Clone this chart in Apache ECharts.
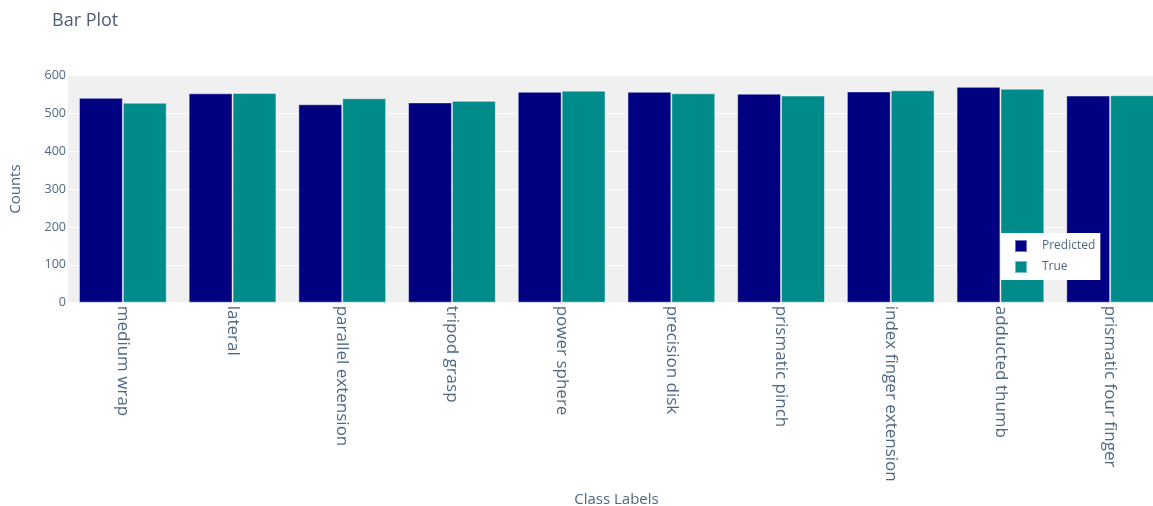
<!DOCTYPE html>
<html>
<head>
<meta charset="utf-8">
<script src="https://cdn.jsdelivr.net/npm/echarts@6/dist/echarts.min.js"></script>
<style>
  html, body { margin: 0; padding: 0; overflow: hidden; background: #fff; }
  #chart { width: 1245px; height: 506px; }
</style>
</head>
<body>
<div id="chart"></div>
<script>
// Class labels and per-class counts
const categories = [
  'medium wrap', 'lateral', 'parallel extension', 'tripod grasp', 'power sphere',
  'precision disk', 'prismatic pinch', 'index finger extension', 'adducted thumb',
  'prismatic four finger'
];
const predicted = [541, 553, 524, 529, 557, 557, 552, 558, 570, 547];
const trueCounts = [528, 554, 540, 533, 560, 553, 547, 561, 565, 548];
const yTicks = { min: 0, max: 600, interval: 100 };

const textColor = '#506784';
const fontFamily = '"Open Sans", verdana, arial, sans-serif';

const chart = echarts.init(document.getElementById('chart'), null, { renderer: 'canvas' });

const barBorder = { borderColor: 'rgba(255,255,255,0.45)', borderWidth: 1 };

chart.setOption({
  animation: false,
  textStyle: { fontFamily: fontFamily },
  title: {
    text: 'Bar Plot',
    left: 47,
    top: 7,
    textStyle: { fontSize: 18, fontWeight: 'normal', color: '#4b5b79', fontFamily: fontFamily }
  },
  grid: {
    left: 68,
    right: 80,
    top: 75.5,
    bottom: 203.3,
    outerBoundsMode: 'none',
    containLabel: false,
    show: true,
    backgroundColor: '#f0f0f0',
    borderWidth: 0
  },
  legend: {
    orient: 'vertical',
    left: 1001,
    top: 233,
    backgroundColor: '#ffffff',
    padding: [6, 5, 6, 13],
    itemWidth: 12,
    itemHeight: 12,
    itemGap: 7,
    icon: 'rect',
    textStyle: { fontSize: 12, lineHeight: 12, color: textColor, padding: [0, 0, 0, 10], fontFamily: fontFamily },
    data: ['Predicted', 'True']
  },
  xAxis: {
    type: 'category',
    data: categories,
    name: 'Class Labels',
    nameLocation: 'middle',
    nameGap: 190,
    nameTextStyle: { fontSize: 15, color: textColor },
    axisLine: { show: false },
    axisTick: { show: false },
    splitLine: { show: false },
    axisLabel: {
      rotate: -90,
      interval: 0,
      margin: 3,
      fontSize: 17,
      color: textColor
    }
  },
  yAxis: {
    type: 'value',
    min: yTicks.min,
    max: yTicks.max,
    interval: yTicks.interval,
    name: 'Counts',
    nameLocation: 'middle',
    nameGap: 45,
    nameTextStyle: { fontSize: 15, color: textColor },
    axisLine: { show: false },
    axisTick: { show: false },
    axisLabel: { fontSize: 12.5, color: textColor, margin: 2 },
    splitLine: { show: true, lineStyle: { color: '#ffffff', width: 1 } }
  },
  series: [
    {
      name: 'Predicted',
      type: 'bar',
      data: predicted,
      barGap: '0%',
      barCategoryGap: '20%',
      itemStyle: Object.assign({ color: '#000080' }, barBorder)
    },
    {
      name: 'True',
      type: 'bar',
      data: trueCounts,
      barGap: '0%',
      barCategoryGap: '20%',
      itemStyle: Object.assign({ color: '#008b8b' }, barBorder)
    }
  ]
});
</script>
</body>
</html>
